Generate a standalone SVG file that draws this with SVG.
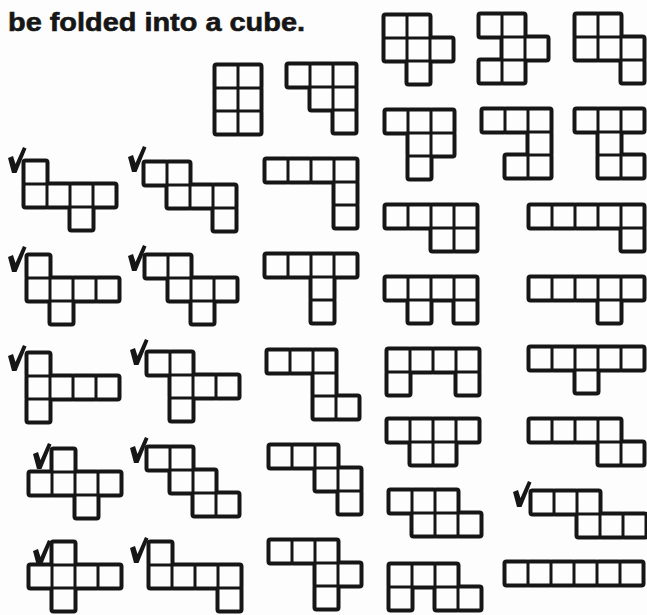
<svg xmlns="http://www.w3.org/2000/svg" xmlns:xlink="http://www.w3.org/1999/xlink" width="647" height="615" viewBox="0 0 647 615">
<style>
.ink{fill:#161616;stroke:#161616;stroke-width:8;stroke-linejoin:round}
.paper{fill:#fdfdfd;stroke:none}
.chk{fill:#161616}
.title{font-family:"Liberation Sans",Arial,sans-serif;font-weight:bold;font-size:26px;fill:#161616;stroke:#161616;stroke-width:0.6}
</style>
<defs>
<path id="check" d="M0,11 L5,9 L7.5,17 L15,0 L18.5,1.5 L8.5,26 L4,26 Z"/>
</defs>
<rect width="647" height="615" fill="#fdfdfd"/>
<text class="title" x="8" y="31" textLength="297" lengthAdjust="spacingAndGlyphs">be folded into a cube.</text>

<defs>
<!-- cell layouts, cell = 23 -->
<g id="n1"><rect x="1.5" y="1.5" width="20" height="20"/><rect x="24.5" y="1.5" width="20" height="20"/><rect x="1.5" y="24.5" width="20" height="20"/><rect x="24.5" y="24.5" width="20" height="20"/><rect x="1.5" y="47.5" width="20" height="20"/><rect x="24.5" y="47.5" width="20" height="20"/></g>
<g id="n2"><rect x="1.5" y="1.5" width="20" height="20"/><rect x="24.5" y="1.5" width="20" height="20"/><rect x="47.5" y="1.5" width="20" height="20"/><rect x="24.5" y="24.5" width="20" height="20"/><rect x="47.5" y="24.5" width="20" height="20"/><rect x="47.5" y="47.5" width="20" height="20"/></g>
<g id="nA"><rect x="1.5" y="1.5" width="20" height="20"/><rect x="24.5" y="1.5" width="20" height="20"/><rect x="1.5" y="24.5" width="20" height="20"/><rect x="24.5" y="24.5" width="20" height="20"/><rect x="47.5" y="24.5" width="20" height="20"/><rect x="24.5" y="47.5" width="20" height="20"/></g>
<g id="nB"><rect x="1.5" y="1.5" width="20" height="20"/><rect x="24.5" y="1.5" width="20" height="20"/><rect x="24.5" y="24.5" width="20" height="20"/><rect x="47.5" y="24.5" width="20" height="20"/><rect x="1.5" y="47.5" width="20" height="20"/><rect x="24.5" y="47.5" width="20" height="20"/></g>
<g id="nC"><rect x="1.5" y="1.5" width="20" height="20"/><rect x="24.5" y="1.5" width="20" height="20"/><rect x="1.5" y="24.5" width="20" height="20"/><rect x="24.5" y="24.5" width="20" height="20"/><rect x="47.5" y="24.5" width="20" height="20"/><rect x="47.5" y="47.5" width="20" height="20"/></g>
<g id="nD"><rect x="1.5" y="1.5" width="20" height="20"/><rect x="24.5" y="1.5" width="20" height="20"/><rect x="47.5" y="1.5" width="20" height="20"/><rect x="24.5" y="24.5" width="20" height="20"/><rect x="47.5" y="24.5" width="20" height="20"/><rect x="24.5" y="47.5" width="20" height="20"/></g>
<g id="nE"><rect x="1.5" y="1.5" width="20" height="20"/><rect x="24.5" y="1.5" width="20" height="20"/><rect x="47.5" y="1.5" width="20" height="20"/><rect x="47.5" y="24.5" width="20" height="20"/><rect x="24.5" y="47.5" width="20" height="20"/><rect x="47.5" y="47.5" width="20" height="20"/></g>
<g id="nF"><rect x="1.5" y="1.5" width="20" height="20"/><rect x="24.5" y="1.5" width="20" height="20"/><rect x="47.5" y="1.5" width="20" height="20"/><rect x="24.5" y="24.5" width="20" height="20"/><rect x="24.5" y="47.5" width="20" height="20"/><rect x="47.5" y="47.5" width="20" height="20"/></g>
<g id="nG"><rect x="1.5" y="1.5" width="20" height="20"/><rect x="1.5" y="24.5" width="20" height="20"/><rect x="24.5" y="24.5" width="20" height="20"/><rect x="47.5" y="24.5" width="20" height="20"/><rect x="70.5" y="24.5" width="20" height="20"/><rect x="47.5" y="47.5" width="20" height="20"/></g>
<g id="nH"><rect x="1.5" y="1.5" width="20" height="20"/><rect x="24.5" y="1.5" width="20" height="20"/><rect x="24.5" y="24.5" width="20" height="20"/><rect x="47.5" y="24.5" width="20" height="20"/><rect x="70.5" y="24.5" width="20" height="20"/><rect x="70.5" y="47.5" width="20" height="20"/></g>
<g id="nI"><rect x="1.5" y="1.5" width="20" height="20"/><rect x="24.5" y="1.5" width="20" height="20"/><rect x="47.5" y="1.5" width="20" height="20"/><rect x="70.5" y="1.5" width="20" height="20"/><rect x="70.5" y="24.5" width="20" height="20"/><rect x="70.5" y="47.5" width="20" height="20"/></g>
<g id="nJ"><rect x="1.5" y="1.5" width="20" height="20"/><rect x="1.5" y="24.5" width="20" height="20"/><rect x="24.5" y="24.5" width="20" height="20"/><rect x="47.5" y="24.5" width="20" height="20"/><rect x="70.5" y="24.5" width="20" height="20"/><rect x="24.5" y="47.5" width="20" height="20"/></g>
<g id="nK"><rect x="1.5" y="1.5" width="20" height="20"/><rect x="24.5" y="1.5" width="20" height="20"/><rect x="24.5" y="24.5" width="20" height="20"/><rect x="47.5" y="24.5" width="20" height="20"/><rect x="70.5" y="24.5" width="20" height="20"/><rect x="47.5" y="47.5" width="20" height="20"/></g>
<g id="nL"><rect x="1.5" y="1.5" width="20" height="20"/><rect x="24.5" y="1.5" width="20" height="20"/><rect x="47.5" y="1.5" width="20" height="20"/><rect x="70.5" y="1.5" width="20" height="20"/><rect x="47.5" y="24.5" width="20" height="20"/><rect x="47.5" y="47.5" width="20" height="20"/></g>
<g id="nM"><rect x="1.5" y="1.5" width="20" height="20"/><rect x="24.5" y="1.5" width="20" height="20"/><rect x="47.5" y="1.5" width="20" height="20"/><rect x="70.5" y="1.5" width="20" height="20"/><rect x="47.5" y="24.5" width="20" height="20"/><rect x="70.5" y="24.5" width="20" height="20"/></g>
<g id="nN"><rect x="1.5" y="1.5" width="20" height="20"/><rect x="24.5" y="1.5" width="20" height="20"/><rect x="47.5" y="1.5" width="20" height="20"/><rect x="70.5" y="1.5" width="20" height="20"/><rect x="93.5" y="1.5" width="20" height="20"/><rect x="93.5" y="24.5" width="20" height="20"/></g>
<g id="nO"><rect x="1.5" y="1.5" width="20" height="20"/><rect x="24.5" y="1.5" width="20" height="20"/><rect x="47.5" y="1.5" width="20" height="20"/><rect x="70.5" y="1.5" width="20" height="20"/><rect x="24.5" y="24.5" width="20" height="20"/><rect x="70.5" y="24.5" width="20" height="20"/></g>
<g id="nP"><rect x="1.5" y="1.5" width="20" height="20"/><rect x="24.5" y="1.5" width="20" height="20"/><rect x="47.5" y="1.5" width="20" height="20"/><rect x="70.5" y="1.5" width="20" height="20"/><rect x="93.5" y="1.5" width="20" height="20"/><rect x="70.5" y="24.5" width="20" height="20"/></g>
<g id="nQ"><rect x="1.5" y="1.5" width="20" height="20"/><rect x="1.5" y="24.5" width="20" height="20"/><rect x="24.5" y="24.5" width="20" height="20"/><rect x="47.5" y="24.5" width="20" height="20"/><rect x="70.5" y="24.5" width="20" height="20"/><rect x="1.5" y="47.5" width="20" height="20"/></g>
<g id="nR"><rect x="1.5" y="1.5" width="20" height="20"/><rect x="24.5" y="1.5" width="20" height="20"/><rect x="24.5" y="24.5" width="20" height="20"/><rect x="47.5" y="24.5" width="20" height="20"/><rect x="70.5" y="24.5" width="20" height="20"/><rect x="24.5" y="47.5" width="20" height="20"/></g>
<g id="nS"><rect x="1.5" y="1.5" width="20" height="20"/><rect x="24.5" y="1.5" width="20" height="20"/><rect x="47.5" y="1.5" width="20" height="20"/><rect x="47.5" y="24.5" width="20" height="20"/><rect x="47.5" y="47.5" width="20" height="20"/><rect x="70.5" y="47.5" width="20" height="20"/></g>
<g id="nT"><rect x="1.5" y="1.5" width="20" height="20"/><rect x="24.5" y="1.5" width="20" height="20"/><rect x="47.5" y="1.5" width="20" height="20"/><rect x="70.5" y="1.5" width="20" height="20"/><rect x="1.5" y="24.5" width="20" height="20"/><rect x="70.5" y="24.5" width="20" height="20"/></g>
<g id="nU"><rect x="1.5" y="1.5" width="20" height="20"/><rect x="24.5" y="1.5" width="20" height="20"/><rect x="47.5" y="1.5" width="20" height="20"/><rect x="70.5" y="1.5" width="20" height="20"/><rect x="93.5" y="1.5" width="20" height="20"/><rect x="47.5" y="24.5" width="20" height="20"/></g>
<g id="nBB"><rect x="1.5" y="1.5" width="20" height="20"/><rect x="24.5" y="1.5" width="20" height="20"/><rect x="47.5" y="1.5" width="20" height="20"/><rect x="70.5" y="1.5" width="20" height="20"/><rect x="24.5" y="24.5" width="20" height="20"/><rect x="47.5" y="24.5" width="20" height="20"/></g>
<g id="nCC"><rect x="1.5" y="1.5" width="20" height="20"/><rect x="24.5" y="1.5" width="20" height="20"/><rect x="47.5" y="1.5" width="20" height="20"/><rect x="70.5" y="1.5" width="20" height="20"/><rect x="70.5" y="24.5" width="20" height="20"/><rect x="93.5" y="24.5" width="20" height="20"/></g>
<g id="nV"><rect x="24.5" y="1.5" width="20" height="20"/><rect x="1.5" y="24.5" width="20" height="20"/><rect x="24.5" y="24.5" width="20" height="20"/><rect x="47.5" y="24.5" width="20" height="20"/><rect x="70.5" y="24.5" width="20" height="20"/><rect x="47.5" y="47.5" width="20" height="20"/></g>
<g id="nW"><rect x="1.5" y="1.5" width="20" height="20"/><rect x="24.5" y="1.5" width="20" height="20"/><rect x="24.5" y="24.5" width="20" height="20"/><rect x="47.5" y="24.5" width="20" height="20"/><rect x="47.5" y="47.5" width="20" height="20"/><rect x="70.5" y="47.5" width="20" height="20"/></g>
<g id="nX"><rect x="1.5" y="1.5" width="20" height="20"/><rect x="24.5" y="1.5" width="20" height="20"/><rect x="47.5" y="1.5" width="20" height="20"/><rect x="47.5" y="24.5" width="20" height="20"/><rect x="70.5" y="24.5" width="20" height="20"/><rect x="70.5" y="47.5" width="20" height="20"/></g>
<g id="nDD"><rect x="1.5" y="1.5" width="20" height="20"/><rect x="24.5" y="1.5" width="20" height="20"/><rect x="47.5" y="1.5" width="20" height="20"/><rect x="24.5" y="24.5" width="20" height="20"/><rect x="47.5" y="24.5" width="20" height="20"/><rect x="70.5" y="24.5" width="20" height="20"/></g>
<g id="nEE"><rect x="1.5" y="1.5" width="20" height="20"/><rect x="24.5" y="1.5" width="20" height="20"/><rect x="47.5" y="1.5" width="20" height="20"/><rect x="47.5" y="24.5" width="20" height="20"/><rect x="70.5" y="24.5" width="20" height="20"/><rect x="93.5" y="24.5" width="20" height="20"/></g>
<g id="nFF"><rect x="1.5" y="1.5" width="20" height="20"/><rect x="24.5" y="1.5" width="20" height="20"/><rect x="47.5" y="1.5" width="20" height="20"/><rect x="1.5" y="24.5" width="20" height="20"/><rect x="47.5" y="24.5" width="20" height="20"/><rect x="70.5" y="24.5" width="20" height="20"/></g>
<g id="nGG"><rect x="1.5" y="1.5" width="20" height="20"/><rect x="24.5" y="1.5" width="20" height="20"/><rect x="47.5" y="1.5" width="20" height="20"/><rect x="70.5" y="1.5" width="20" height="20"/><rect x="93.5" y="1.5" width="20" height="20"/><rect x="116.5" y="1.5" width="20" height="20"/></g>
<g id="nY"><rect x="24.5" y="1.5" width="20" height="20"/><rect x="1.5" y="24.5" width="20" height="20"/><rect x="24.5" y="24.5" width="20" height="20"/><rect x="47.5" y="24.5" width="20" height="20"/><rect x="70.5" y="24.5" width="20" height="20"/><rect x="24.5" y="47.5" width="20" height="20"/></g>
<g id="nZ"><rect x="1.5" y="1.5" width="20" height="20"/><rect x="1.5" y="24.5" width="20" height="20"/><rect x="24.5" y="24.5" width="20" height="20"/><rect x="47.5" y="24.5" width="20" height="20"/><rect x="70.5" y="24.5" width="20" height="20"/><rect x="70.5" y="47.5" width="20" height="20"/></g>
<g id="nAA"><rect x="1.5" y="1.5" width="20" height="20"/><rect x="24.5" y="1.5" width="20" height="20"/><rect x="47.5" y="1.5" width="20" height="20"/><rect x="47.5" y="24.5" width="20" height="20"/><rect x="70.5" y="24.5" width="20" height="20"/><rect x="47.5" y="47.5" width="20" height="20"/></g>
</defs>

<g id="net-1" transform="translate(215,65)"><use href="#n1" class="ink"/><use href="#n1" class="paper"/></g>
<g id="net-2" transform="translate(287,64)"><use href="#n2" class="ink"/><use href="#n2" class="paper"/></g>
<g id="net-A" transform="translate(384,15)"><use href="#nA" class="ink"/><use href="#nA" class="paper"/></g>
<g id="net-B" transform="translate(479,14)"><use href="#nB" class="ink"/><use href="#nB" class="paper"/></g>
<g id="net-C" transform="translate(575,14)"><use href="#nC" class="ink"/><use href="#nC" class="paper"/></g>
<g id="net-D" transform="translate(385,110)"><use href="#nD" class="ink"/><use href="#nD" class="paper"/></g>
<g id="net-E" transform="translate(482,109)"><use href="#nE" class="ink"/><use href="#nE" class="paper"/></g>
<g id="net-F" transform="translate(575,109)"><use href="#nF" class="ink"/><use href="#nF" class="paper"/></g>
<g id="net-G" transform="translate(24,161)"><use href="#nG" class="ink"/><use href="#nG" class="paper"/></g>
<g id="net-H" transform="translate(144,162)"><use href="#nH" class="ink"/><use href="#nH" class="paper"/></g>
<g id="net-I" transform="translate(265,159)"><use href="#nI" class="ink"/><use href="#nI" class="paper"/></g>
<g id="net-J" transform="translate(27,255)"><use href="#nJ" class="ink"/><use href="#nJ" class="paper"/></g>
<g id="net-K" transform="translate(145,255)"><use href="#nK" class="ink"/><use href="#nK" class="paper"/></g>
<g id="net-L" transform="translate(265,254)"><use href="#nL" class="ink"/><use href="#nL" class="paper"/></g>
<g id="net-M" transform="translate(385,205)"><use href="#nM" class="ink"/><use href="#nM" class="paper"/></g>
<g id="net-N" transform="translate(529,205)"><use href="#nN" class="ink"/><use href="#nN" class="paper"/></g>
<g id="net-O" transform="translate(385,277)"><use href="#nO" class="ink"/><use href="#nO" class="paper"/></g>
<g id="net-P" transform="translate(529,277)"><use href="#nP" class="ink"/><use href="#nP" class="paper"/></g>
<g id="net-Q" transform="translate(27,353)"><use href="#nQ" class="ink"/><use href="#nQ" class="paper"/></g>
<g id="net-R" transform="translate(147,352)"><use href="#nR" class="ink"/><use href="#nR" class="paper"/></g>
<g id="net-S" transform="translate(267,350)"><use href="#nS" class="ink"/><use href="#nS" class="paper"/></g>
<g id="net-T" transform="translate(387,349)"><use href="#nT" class="ink"/><use href="#nT" class="paper"/></g>
<g id="net-U" transform="translate(529,347)"><use href="#nU" class="ink"/><use href="#nU" class="paper"/></g>
<g id="net-BB" transform="translate(387,419)"><use href="#nBB" class="ink"/><use href="#nBB" class="paper"/></g>
<g id="net-CC" transform="translate(529,419)"><use href="#nCC" class="ink"/><use href="#nCC" class="paper"/></g>
<g id="net-V" transform="translate(29,449)"><use href="#nV" class="ink"/><use href="#nV" class="paper"/></g>
<g id="net-W" transform="translate(147,447)"><use href="#nW" class="ink"/><use href="#nW" class="paper"/></g>
<g id="net-X" transform="translate(269,445)"><use href="#nX" class="ink"/><use href="#nX" class="paper"/></g>
<g id="net-DD" transform="translate(389,490)"><use href="#nDD" class="ink"/><use href="#nDD" class="paper"/></g>
<g id="net-EE" transform="translate(531,491)"><use href="#nEE" class="ink"/><use href="#nEE" class="paper"/></g>
<g id="net-FF" transform="translate(389,564)"><use href="#nFF" class="ink"/><use href="#nFF" class="paper"/></g>
<g id="net-GG" transform="translate(505,562)"><use href="#nGG" class="ink"/><use href="#nGG" class="paper"/></g>
<g id="net-Y" transform="translate(29,542)"><use href="#nY" class="ink"/><use href="#nY" class="paper"/></g>
<g id="net-Z" transform="translate(149,542)"><use href="#nZ" class="ink"/><use href="#nZ" class="paper"/></g>
<g id="net-AA" transform="translate(269,540)"><use href="#nAA" class="ink"/><use href="#nAA" class="paper"/></g>

<g id="checks" class="chk">
<use href="#check" x="8" y="147"/>
<use href="#check" x="128" y="146"/>
<use href="#check" x="8" y="246"/>
<use href="#check" x="128" y="245"/>
<use href="#check" x="8" y="345"/>
<use href="#check" x="130" y="339"/>
<use href="#check" x="33" y="443"/>
<use href="#check" x="130" y="437"/>
<use href="#check" x="33" y="540"/>
<use href="#check" x="130" y="537"/>
<use href="#check" x="513" y="481"/>
</g>
</svg>
